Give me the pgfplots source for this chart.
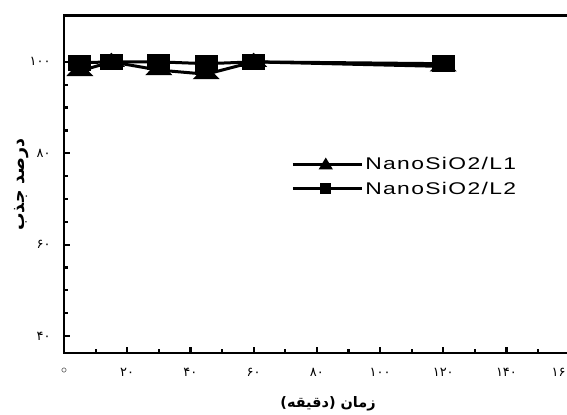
\documentclass[border=0pt]{standalone}
\usepackage{pgfplots}
\pgfplotsset{compat=1.18}
\usepackage{fontspec}
\setmainfont{DejaVu Sans}
\TeXXeTstate=1
\newfontfamily\fa[Script=Arabic]{DejaVu Sans}
\newfontfamily\legfont[FakeStretch=1.35,LetterSpace=8]{Liberation Sans}
\begin{document}
\begin{tikzpicture}
\begin{axis}[
  scale only axis, width=508.8bp, height=337.3bp,
  at={(0,0)}, anchor=south west,
  xmin=0, xmax=161, ymin=36.3, ymax=110.1,
  axis line style={line width=2.8bp},
  tick pos=left, tick align=inside,
  xtick={0,20,...,160}, minor x tick num=1,
  ytick={40,60,80,100}, minor y tick num=3,
  major tick length=6bp, minor tick length=4bp,
  every tick/.style={black, line width=2.2bp},
  every minor tick/.style={black, line width=2.2bp},
  xticklabels={{\fontsize{12}{12}\selectfont$\circ$},۲۰,۴۰,۶۰,۸۰,۱۰۰,۱۲۰,۱۴۰,{\makebox[0pt][r]{۱۶\hspace{4bp}}}},
  yticklabels={۴۰,۶۰,۸۰,۱۰۰},
  tick label style={font=\fa\fontsize{13}{14}\selectfont},
  yticklabel style={xshift=-10bp},
  xticklabel style={yshift=-12bp},
  xlabel={\fa\bfseries\fontsize{14.5}{16}\selectfont\beginR زمان (دقیقه)\endR},
  xlabel style={at={(axis description cs:0.519,0)}, anchor=center, yshift=-51bp},
  ylabel={\fa\bfseries\fontsize{17.5}{19}\selectfont\beginR درصد جذب\endR},
  ylabel style={at={(axis description cs:0,0.4995)}, anchor=center, yshift=42bp},
  legend style={at={(axis description cs:0.4463,0.586)}, anchor=north west,
    draw=none, fill=none, inner sep=0pt, row sep=6.5bp,
    font=\legfont\fontsize{17}{20}\selectfont},
  legend cell align=left,
]
\addplot[black, line width=3bp, mark=triangle*, mark size=7bp,
  mark options={xscale=1.65, solid},
  legend image code/.code={\path (0bp,0bp) -- (69bp,0bp);
    \draw[black, line width=2.2bp] (0bp,0bp) -- (66bp,0bp);
    \fill[black] (28.5bp,-3.5bp) -- (37.5bp,-3.5bp) -- (33bp,4bp) -- cycle;}]
  coordinates {(5,98.0) (15,100) (30,98.2) (45,97.3) (60,100) (120,99.0)};
\addlegendentry{NanoSiO2/L1}
\addplot[black, line width=3bp, mark=square*, mark size=6.7bp,
  mark options={xscale=1.5, solid},
  legend image code/.code={\path (0bp,0bp) -- (69bp,0bp);
    \draw[black, line width=2.2bp] (0bp,0bp) -- (66bp,0bp);
    \fill[black] (29bp,-4bp) rectangle (37bp,4bp);}]
  coordinates {(5,99.8) (15,100) (30,100) (45,99.6) (60,100) (120,99.6)};
\addlegendentry{NanoSiO2/L2}
\end{axis}
\pgfresetboundingbox
\path (-64bp,-62bp) rectangle (503bp,353bp);
\end{tikzpicture}
\end{document}
